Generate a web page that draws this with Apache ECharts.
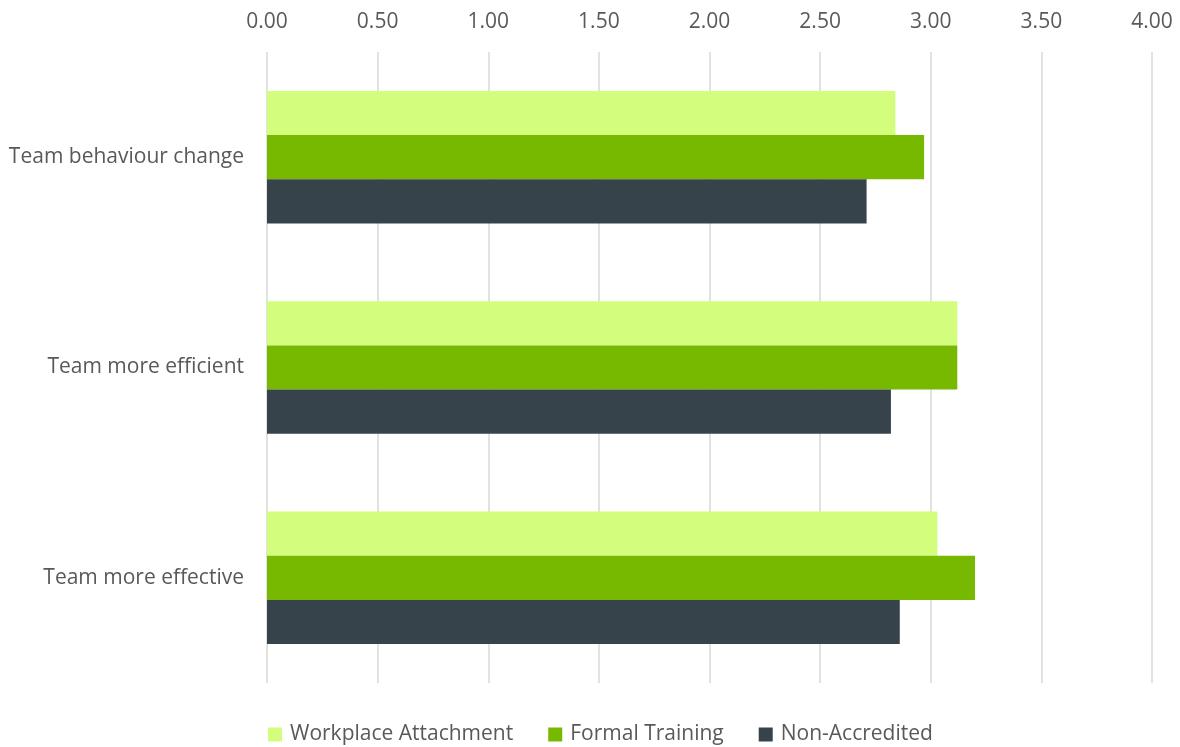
<!DOCTYPE html>
<html>
<head>
<meta charset="utf-8">
<script src="https://cdn.jsdelivr.net/npm/echarts@6/dist/echarts.min.js"></script>
<style>
  html, body { margin: 0; padding: 0; background: #fff; }
  #chart { width: 1180px; height: 747px; }
</style>
</head>
<body>
<div id="chart"></div>
<script>
  // data
  const categories = ['Team behaviour change', 'Team more efficient', 'Team more effective']
  const workplaceAttachment = [2.84, 3.12, 3.03]
  const formalTraining = [2.97, 3.12, 3.20]
  const nonAccredited = [2.71, 2.82, 2.86]
  const seriesNames = ['Workplace Attachment', 'Formal Training', 'Non-Accredited']

  const font = '"Open Sans", Lato, sans-serif'
  const textColor = '#595959'

  const chart = echarts.init(document.getElementById('chart'))

  function bar(name, data, color) {
    return {
      name: name,
      type: 'bar',
      data: data,
      barGap: '0%',
      barCategoryGap: '37%',
      itemStyle: { color: color },
      animation: false
    }
  }

  chart.setOption({
    grid: { left: 267, right: 28, top: 52, bottom: 64, containLabel: false },
    legend: {
      top: 719,
      left: 263,
      itemWidth: 14,
      itemHeight: 14,
      itemGap: 35,
      icon: 'rect',
      textStyle: { color: textColor, fontSize: 21, fontFamily: font, padding: [0, 0, 0, 3] },
      data: seriesNames
    },
    xAxis: {
      type: 'value',
      position: 'top',
      min: 0,
      max: 4,
      interval: 0.5,
      axisLine: { show: false },
      axisTick: { show: false },
      axisLabel: {
        color: textColor,
        fontSize: 21,
        fontFamily: font,
        margin: 19,
        formatter: v => v.toFixed(2)
      },
      splitLine: { lineStyle: { color: '#d9d9d9', width: 1.5 } }
    },
    yAxis: {
      type: 'category',
      inverse: true,
      data: categories,
      axisLine: { show: false },
      axisTick: { show: false },
      axisLabel: { color: textColor, fontSize: 21, fontFamily: font, margin: 23 }
    },
    series: [
      bar(seriesNames[0], workplaceAttachment, '#d3fd7c'),
      bar(seriesNames[1], formalTraining, '#76b900'),
      bar(seriesNames[2], nonAccredited, '#36434b')
    ]
  })
</script>
</body>
</html>
